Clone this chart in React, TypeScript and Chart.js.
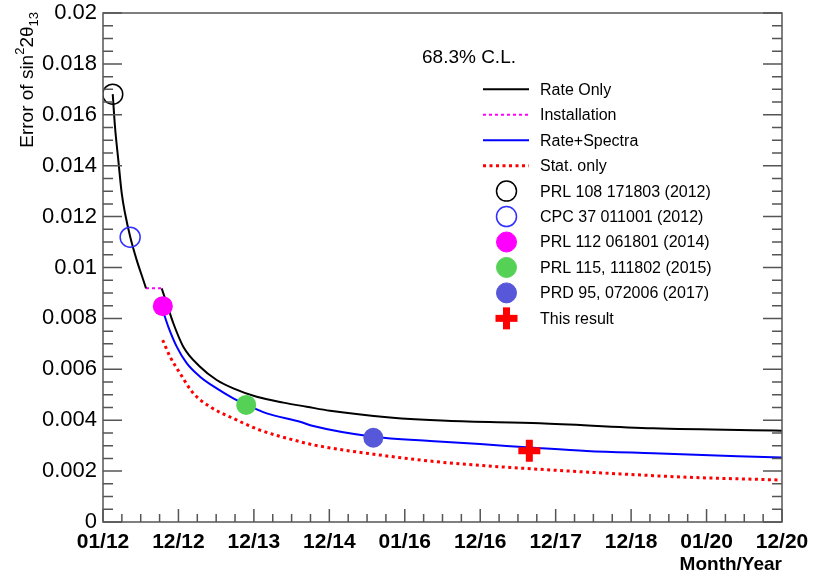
import React, { useEffect, useRef } from 'react';
import { Chart, registerables } from 'chart.js';

Chart.register(...registerables);

// ---------- data ----------
const xTickLabels = ['01/12', '12/12', '12/13', '12/14', '01/16', '12/16', '12/17', '12/18', '01/20', '12/20'];

const rateOnlyEarlyX = [0.129, 0.159, 0.203, 0.248, 0.292, 0.362, 0.447, 0.534, 0.570];
const rateOnlyEarlyY = [0.01681, 0.01553, 0.01422, 0.01292, 0.01213, 0.01119, 0.01029, 0.00951, 0.00918];

const installationX = [0.570, 0.778];
const installationY = [0.00918, 0.00918];

const rateOnlyLateX = [0.778, 0.844, 0.932, 1.064, 1.286, 1.507, 1.727, 2.037, 2.390, 2.700, 3.009, 3.804, 4.556, 5.792, 7.291, 9.0];
const rateOnlyLateY = [0.00918, 0.00859, 0.00781, 0.00689, 0.00610, 0.00558, 0.00525, 0.00492, 0.00469, 0.00453, 0.00437, 0.00411, 0.00398, 0.00388, 0.00368, 0.00359];

const rateSpectraX = [0.791, 0.866, 0.977, 1.109, 1.286, 1.507, 1.727, 1.905, 2.170, 2.611, 2.788, 3.583, 4.335, 4.997, 5.660, 6.412, 7.294, 9.0];
const rateSpectraY = [0.00833, 0.00767, 0.00689, 0.00624, 0.00571, 0.00525, 0.00486, 0.00460, 0.00427, 0.00394, 0.00377, 0.00335, 0.00318, 0.00306, 0.00293, 0.00279, 0.00270, 0.00253];

const statOnlyX = [0.791, 0.888, 1.021, 1.197, 1.418, 1.727, 2.081, 2.568, 2.788, 3.672, 4.556, 5.792, 6.853, 7.737, 8.987];
const statOnlyY = [0.00715, 0.00650, 0.00584, 0.00506, 0.00453, 0.00407, 0.00361, 0.00319, 0.00303, 0.00263, 0.00233, 0.00207, 0.00189, 0.00176, 0.00165];

const measurementLabels = [
  'PRL 108 171803 (2012)',
  'CPC 37 011001 (2012)',
  'PRL 112 061801 (2014)',
  'PRL 115, 111802 (2015)',
  'PRD 95, 072006 (2017)',
  'This result',
];
const measurementX = [0.129, 0.360, 0.793, 1.898, 3.583, 5.651];
const measurementY = [0.01681, 0.01119, 0.00848, 0.00460, 0.00331, 0.00280];

// ---------- styles ----------
const FONT = "'Liberation Sans', Arial, Helvetica, sans-serif";
const PLOT_TOP = 13;
const measurementColors = ['#000000', '#3030ff', '#ff00ff', '#55d155', '#5757d9', '#ff0000'];
const measurementFilled = [false, false, true, true, true, true];
const measurementCross = [false, false, false, false, false, true];

const toPoints = (xs: number[], ys: number[]) => xs.map((x, i) => ({ x, y: ys[i] }));

type LegendItem = { kind: 'line' | 'point'; ds: number };

const zeroPad = () => ({ left: 0, top: 0, right: 0, bottom: 0 });

const fixTopPlugin = {
  id: 'fixTop',
  afterLayout(chart: any) {
    const ys = chart.scales.y;
    ys.top = PLOT_TOP;
    ys.height = ys.bottom - PLOT_TOP;
    ys.configure();
    chart.chartArea.top = PLOT_TOP;
    chart.chartArea.height = chart.chartArea.bottom - PLOT_TOP;
  },
};

const framePlugin = {
  id: 'frameTicks',
  afterDatasetsDraw(chart: any) {
    const { ctx, chartArea: a, scales } = chart;
    const xs = scales.x;
    const ys = scales.y;
    ctx.save();
    ctx.strokeStyle = '#555';
    ctx.lineWidth = 1.5;
    ctx.strokeRect(a.left, a.top, a.right - a.left, a.bottom - a.top);
    ctx.beginPath();
    for (let i = 0; i <= 40; i++) {
      const py = ys.getPixelForValue(i * 0.0005);
      const len = i % 4 === 0 ? 19 : 10;
      ctx.moveTo(a.left, py);
      ctx.lineTo(a.left + len, py);
      ctx.moveTo(a.right, py);
      ctx.lineTo(a.right - len, py);
    }
    for (let i = 0; i <= 36; i++) {
      const px = xs.getPixelForValue(i * 0.25);
      const len = i % 4 === 0 ? 13 : 8;
      ctx.moveTo(px, a.bottom);
      ctx.lineTo(px, a.bottom - len);
    }
    ctx.stroke();
    ctx.restore();
  },
};

const yTitlePlugin = {
  id: 'yTitle',
  afterDraw(chart: any) {
    const { ctx, chartArea: a } = chart;
    const main = `19px ${FONT}`;
    const small = `13px ${FONT}`;
    const parts: { t: string; f: string; dy: number }[] = [
      { t: 'Error of sin', f: main, dy: 0 },
      { t: '2', f: small, dy: -9 },
      { t: '2\u03b8', f: main, dy: 0 },
      { t: '13', f: small, dy: 5 },
    ];
    ctx.save();
    let total = 0;
    for (const p of parts) {
      ctx.font = p.f;
      total += ctx.measureText(p.t).width;
    }
    const endY = a.top - 1;
    ctx.translate(33, endY + total);
    ctx.rotate(-Math.PI / 2);
    ctx.fillStyle = '#000';
    ctx.textBaseline = 'alphabetic';
    ctx.textAlign = 'left';
    let cx = 0;
    for (const p of parts) {
      ctx.font = p.f;
      ctx.fillText(p.t, cx, p.dy);
      cx += ctx.measureText(p.t).width;
    }
    ctx.restore();
  },
};

const legendItems: LegendItem[] = [
  { kind: 'line', ds: 6 },
  { kind: 'line', ds: 7 },
  { kind: 'line', ds: 9 },
  { kind: 'line', ds: 10 },
  { kind: 'point', ds: 0 },
  { kind: 'point', ds: 1 },
  { kind: 'point', ds: 2 },
  { kind: 'point', ds: 3 },
  { kind: 'point', ds: 4 },
  { kind: 'point', ds: 5 },
];

const legendPlugin = {
  id: 'customLegend',
  afterDraw(chart: any) {
    const { ctx } = chart;
    const dsets = chart.data.datasets;
    ctx.save();
    ctx.fillStyle = '#000';
    ctx.font = `19px ${FONT}`;
    ctx.textBaseline = 'alphabetic';
    ctx.fillText('68.3% C.L.', 422, 63);
    const x0 = 483, x1 = 529, xm = 506.5, xt = 540;
    const top = 89.3, step = 25.45;
    ctx.font = `16px ${FONT}`;
    ctx.textBaseline = 'middle';
    legendItems.forEach((it, i) => {
      const d = dsets[it.ds];
      const yy = top + i * step;
      if (it.kind === 'line') {
        ctx.save();
        ctx.strokeStyle = d.borderColor;
        ctx.lineWidth = d.borderWidth;
        ctx.setLineDash(d.borderDash || []);
        ctx.beginPath();
        ctx.moveTo(x0, yy);
        ctx.lineTo(x1, yy);
        ctx.stroke();
        ctx.restore();
      } else {
        ctx.save();
        if (d.pointStyle === 'cross') {
          ctx.fillStyle = d.pointBorderColor;
          const r = d.pointRadius;
          const w = d.pointBorderWidth;
          ctx.fillRect(xm - r, yy - w / 2, 2 * r, w);
          ctx.fillRect(xm - w / 2, yy - r, w, 2 * r);
        } else {
          ctx.beginPath();
          ctx.arc(xm, yy, d.pointRadius, 0, Math.PI * 2);
          if (d.pointBackgroundColor !== 'rgba(0,0,0,0)') {
            ctx.fillStyle = d.pointBackgroundColor;
            ctx.fill();
          }
          ctx.strokeStyle = d.pointBorderColor;
          ctx.lineWidth = d.pointBorderWidth;
          ctx.stroke();
        }
        ctx.restore();
      }
      ctx.fillStyle = '#000';
      ctx.fillText(d.label, xt, yy + 1);
    });
    ctx.restore();
  },
};

export default function App() {
  const ref = useRef<HTMLCanvasElement | null>(null);

  useEffect(() => {
    if (!ref.current) return;

    const pointSets = measurementLabels.map((label, i) => ({
      label,
      data: [{ x: measurementX[i], y: measurementY[i] }],
      showLine: false,
      pointStyle: measurementCross[i] ? 'cross' : 'circle',
      pointRadius: measurementCross[i] ? 11 : 10,
      pointHoverRadius: measurementCross[i] ? 11 : 10,
      pointBorderWidth: measurementCross[i] ? 7 : measurementFilled[i] ? 0 : 1.5,
      pointBorderColor: measurementColors[i],
      pointBackgroundColor: measurementFilled[i] ? measurementColors[i] : 'rgba(0,0,0,0)',
      borderColor: measurementColors[i],
      backgroundColor: measurementFilled[i] ? measurementColors[i] : 'rgba(0,0,0,0)',
      order: 0,
    }));

    const lineBase = {
      showLine: true,
      pointRadius: 0,
      pointHoverRadius: 0,
      fill: false,
      cubicInterpolationMode: 'monotone' as const,
      order: 1,
    };

    const lineSets = [
      { ...lineBase, label: 'Rate Only', data: toPoints(rateOnlyEarlyX, rateOnlyEarlyY), borderColor: '#000000', borderWidth: 2 },
      { ...lineBase, label: 'Installation', data: toPoints(installationX, installationY), borderColor: '#ff00ff', borderWidth: 2, borderDash: [3, 3] },
      { ...lineBase, label: 'Rate Only', data: toPoints(rateOnlyLateX, rateOnlyLateY), borderColor: '#000000', borderWidth: 2 },
      { ...lineBase, label: 'Rate+Spectra', data: toPoints(rateSpectraX, rateSpectraY), borderColor: '#0000ff', borderWidth: 2 },
      { ...lineBase, label: 'Stat. only', data: toPoints(statOnlyX, statOnlyY), borderColor: '#ff0000', borderWidth: 3, borderDash: [3, 3.5] },
    ];

    const chart = new Chart(ref.current, {
      type: 'scatter',
      data: { datasets: [...pointSets, ...lineSets] as any },
      options: {
        animation: false,
        responsive: false,
        devicePixelRatio: 1,
        layout: { padding: { left: 0, top: 13, right: 45, bottom: 0 } },
        plugins: { legend: { display: false }, tooltip: { enabled: false } },
        scales: {
          x: {
            type: 'linear',
            min: 0,
            max: 9,
            afterFit: (s: any) => {
              s.height = 55;
              s.paddingLeft = 0; s.paddingRight = 0; s.paddingTop = 0; s.paddingBottom = 0;
              s.getPadding = zeroPad;
            },
            grid: { display: false, drawTicks: false },
            border: { display: false },
            ticks: {
              stepSize: 1,
              autoSkip: false,
              maxRotation: 0,
              padding: 8,
              color: '#000',
              font: { family: FONT, size: 21, weight: 'bold' },
              callback: (v: any) => {
                const n = Number(v);
                const r = Math.round(n);
                return Math.abs(n - r) < 1e-6 && xTickLabels[r] !== undefined ? xTickLabels[r] : '';
              },
            },
            title: {
              display: true,
              text: 'Month/Year',
              align: 'end',
              color: '#000',
              font: { family: FONT, size: 19, weight: 'bold' },
              padding: { top: 0, bottom: 1 },
            },
          },
          y: {
            type: 'linear',
            min: 0,
            max: 0.02,
            afterFit: (s: any) => {
              s.width = 103;
              s.paddingLeft = 0; s.paddingRight = 0; s.paddingTop = 0; s.paddingBottom = 0;
              s.getPadding = zeroPad;
            },
            grid: { display: false, drawTicks: false },
            border: { display: false },
            ticks: {
              stepSize: 0.002,
              autoSkip: false,
              padding: 6,
              color: '#000',
              font: { family: FONT, size: 22, lineHeight: 1 },
              callback: (v: any) => {
                const r = Math.round(Number(v) * 1000) / 1000;
                return r === 0 ? '0' : String(r);
              },
            },
          },
        },
      } as any,
      plugins: [fixTopPlugin, framePlugin, yTitlePlugin, legendPlugin],
    });

    return () => chart.destroy();
  }, []);

  return (
    <div style={{ position: 'absolute', left: 0, top: 0, width: 827, height: 577, background: '#fff' }}>
      <canvas ref={ref} width={827} height={577} style={{ display: 'block' }} />
    </div>
  );
}
